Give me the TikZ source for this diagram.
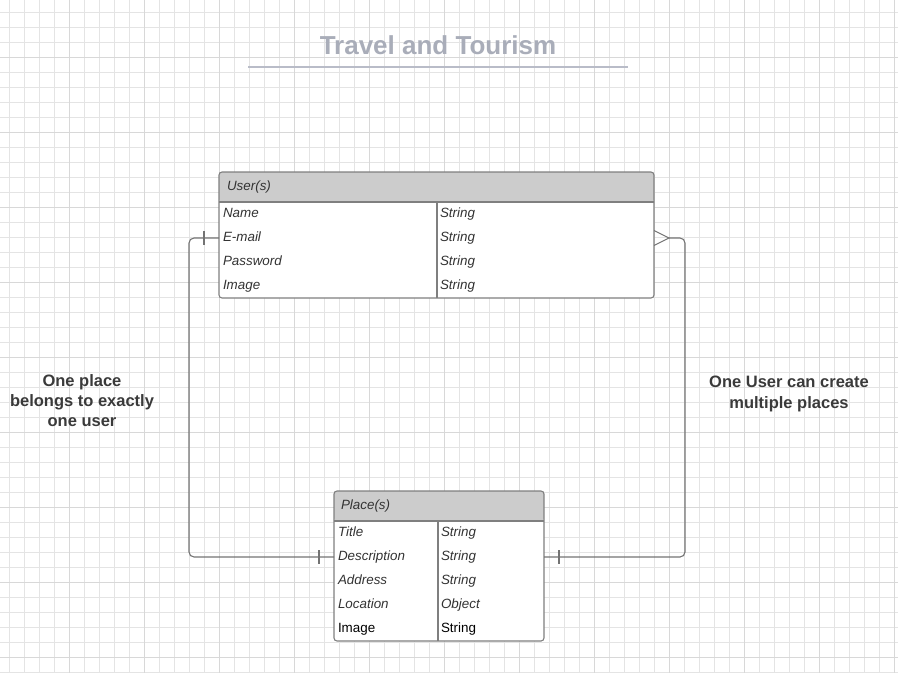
\documentclass[tikz,border=0pt]{standalone}
\usepackage{fontspec}
\setmainfont{Liberation Sans}
\usetikzlibrary{positioning,calc}
\definecolor{ttGrid}{HTML}{E4E4E4}
\definecolor{ttGridMajor}{HTML}{D8D8D8}
\definecolor{ttTitle}{HTML}{A9ADB9}
\definecolor{ttRule}{HTML}{B9BCC8}
\definecolor{ttHead}{HTML}{CCCCCC}
\definecolor{ttBorder}{HTML}{7F7F7F}
\definecolor{ttLink}{HTML}{737373}
\definecolor{ttText}{HTML}{333333}
\definecolor{ttNote}{HTML}{3A3A3A}
\newcommand{\rowfont}{\fontsize{13.4pt}{16pt}\selectfont}
\tikzset{
  gridminor/.style={draw=ttGrid, line width=1pt},
  gridmajor/.style={draw=ttGridMajor, line width=1pt},
  titletext/.style={font=\fontsize{26pt}{31pt}\selectfont\bfseries, text=ttTitle},
  titlerule/.style={draw=ttRule, line width=1.8pt},
  entity/.style={
    draw=ttBorder, fill=white, line width=1.1pt, rounded corners=3pt,
    inner sep=0pt, outer sep=0pt,
    path picture={\fill[ttHead] (path picture bounding box.north west)
      rectangle ([yshift=-30pt]path picture bounding box.north east);}
  },
  cell/.style={
    inner xsep=4pt, inner ysep=0pt, outer sep=0pt, minimum height=24pt,
    text height=9pt, text depth=1.5pt, align=left,
    font=\rowfont\itshape, text=ttText
  },
  typecell/.style={cell, inner xsep=3pt},
  plaincell/.style={font=\rowfont, text=black},
  headcell/.style={cell, inner xsep=8pt, minimum height=30pt},
  tblline/.style={draw=ttBorder, line width=1.1pt},
  link/.style={draw=ttLink, line width=1.1pt, rounded corners=5pt},
  note/.style={font=\fontsize{16.5pt}{20pt}\selectfont\bfseries, align=center, text=ttNote}
}
\begin{document}
\begin{tikzpicture}[x=1pt, y=-1pt]
  \useasboundingbox (0,0) rectangle (898,673);
  % background grid
  \foreach \k in {0,...,59}
    \draw[gridminor] ({9.3+15*\k},0) -- ({9.3+15*\k},673);
  \foreach \k in {0,...,44}
    \draw[gridminor] (0,{12.3+15*\k}) -- (898,{12.3+15*\k});
  \foreach \k in {0,...,11}
    \draw[gridmajor] ({69.3+75*\k},0) -- ({69.3+75*\k},673);
  \foreach \k in {0,...,8}
    \draw[gridmajor] (0,{57.3+75*\k}) -- (898,{57.3+75*\k});

  % title
  \node[titletext] (title) at (438,45.5) {Travel and Tourism};
  \draw[titlerule] (248,67) -- (628,67);

  % users table
  \node[entity, minimum width=435pt, minimum height=126pt, anchor=north west] (uframe) at (219,172) {};
  \node[headcell, text width=419pt, below right=0pt and 0pt of uframe.north west] (uhead) {User(s)};
  \node[cell, text width=210pt, below right=0pt and 0pt of uhead.south west] (u1) {Name};
  \node[cell, text width=210pt, below=0pt of u1] (u2) {E-mail};
  \node[cell, text width=210pt, below=0pt of u2] (u3) {Password};
  \node[cell, text width=210pt, below=0pt of u3] (u4) {Image};
  \node[typecell, text width=211pt, right=0pt of u1] (u1t) {String};
  \node[typecell, text width=211pt, right=0pt of u2] (u2t) {String};
  \node[typecell, text width=211pt, right=0pt of u3] (u3t) {String};
  \node[typecell, text width=211pt, right=0pt of u4] (u4t) {String};
  \draw[tblline] (uhead.south west) -- (uhead.south east);
  \draw[tblline] (u1t.north west) -- (u4t.south west);

  % places table
  \node[entity, minimum width=210pt, minimum height=150pt, anchor=north west] (pframe) at (334,491) {};
  \node[headcell, inner xsep=7pt, text width=196pt, below right=0pt and 0pt of pframe.north west] (phead) {Place(s)};
  \node[cell, text width=96pt, below right=0pt and 0pt of phead.south west] (p1) {Title};
  \node[cell, text width=96pt, below=0pt of p1] (p2) {Description};
  \node[cell, text width=96pt, below=0pt of p2] (p3) {Address};
  \node[cell, text width=96pt, below=0pt of p3] (p4) {Location};
  \node[cell, plaincell, text width=96pt, below=0pt of p4] (p5) {Image};
  \node[typecell, text width=100pt, right=0pt of p1] (p1t) {String};
  \node[typecell, text width=100pt, right=0pt of p2] (p2t) {String};
  \node[typecell, text width=100pt, right=0pt of p3] (p3t) {String};
  \node[typecell, text width=100pt, right=0pt of p4] (p4t) {Object};
  \node[typecell, plaincell, text width=100pt, right=0pt of p5] (p5t) {String};
  \draw[tblline] (phead.south west) -- (phead.south east);
  \draw[tblline] (p1t.north west) -- (p5t.south west);

  % relations
  \coordinate (ufoot) at (uframe.east |- u2);
  \coordinate (pend) at (pframe.east |- p2);
  \draw[link] (u2.west) -- ++(-30,0) |- (p2.west);
  \draw[link] ([xshift=15pt]ufoot) -- ++(16,0) |- (pend);
  \draw[link, rounded corners=0pt] ([yshift=7.5pt]ufoot) -- ([xshift=15pt]ufoot) -- ([yshift=-7.5pt]ufoot);
  \draw[link] ([xshift=-15pt]u2.west) ++(0,-7) -- ++(0,14);
  \draw[link] ([xshift=-15pt]p2.west) ++(0,-7) -- ++(0,14);
  \draw[link] ([xshift=15pt]pend) ++(0,-7) -- ++(0,14);

  % notes
  \node[note] (lnote) at (82,401) {One place\\belongs to exactly\\one user};
  \node[note, font=\fontsize{16.5pt}{21pt}\selectfont\bfseries] (rnote) at (789,394) {One User can create\\multiple places};
\end{tikzpicture}
\end{document}
